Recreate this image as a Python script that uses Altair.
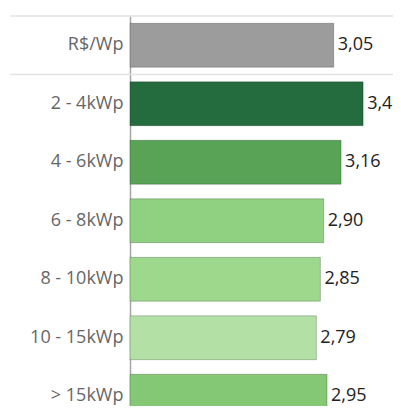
import altair as alt
import pandas as pd

categories = ["R$/Wp", "2 - 4kWp", "4 - 6kWp", "6 - 8kWp", "8 - 10kWp", "10 - 15kWp", "> 15kWp"]
values = [3.05, 3.49, 3.16, 2.90, 2.85, 2.79, 2.95]
colors = ["#9c9c9c", "#246b3d", "#59a356", "#8fd180", "#9dd88c", "#b2e0a5", "#84c774"]

df = pd.DataFrame({
    "cat": categories,
    "val": values,
    "label": [f"{v:.2f}".replace(".", ",") for v in values],
})

W_VIEW = 263     # visible plot width (kept inside the page)
W_RANGE = 271    # x range as in the reference, reaching the window edge
H_VIEW = 390     # visible plot height (kept inside the page)
H_RANGE = 409.5  # full band range, extends past the window like the reference
FONT = "Open Sans"

y_enc = alt.Y(
    "cat:N",
    sort=categories,
    scale=alt.Scale(paddingInner=0.25, paddingOuter=0.125, range=[0, H_RANGE]),
    axis=alt.Axis(
        title=None, ticks=False, labelPadding=7, labelFontSize=18,
        labelFont=FONT, labelColor="#666666", domain=True,
        domainColor="#a6a6a6", domainWidth=1.5, grid=False,
    ),
)
x_enc = alt.X("val:Q", scale=alt.Scale(domain=[0, W_RANGE / 66.8], range=[0, W_RANGE], nice=False, zero=True), axis=None)

base = alt.Chart(df)

bars = base.mark_bar(stroke="#000000", strokeOpacity=0.22, strokeWidth=1).encode(
    y=y_enc,
    x=x_enc,
    color=alt.Color("cat:N", scale=alt.Scale(domain=categories, range=colors), legend=None),
)

texts = base.mark_text(align="left", baseline="middle", dx=4, fontSize=18, font=FONT, color="#222222").encode(
    y=alt.Y("cat:N", sort=categories),
    x=x_enc,
    text="label:N",
)

sep_df = pd.DataFrame({"k": [0]})
sep1 = alt.Chart(sep_df).mark_rule(color="#e3e3e3", strokeWidth=1.5).encode(
    x=alt.value(-120), x2=alt.value(W_RANGE), y=alt.value(0)
)
sep2 = alt.Chart(sep_df).mark_rule(color="#e3e3e3", strokeWidth=1.5).encode(
    x=alt.value(-120), x2=alt.value(W_RANGE), y=alt.value(H_RANGE / 7)
)

chart = alt.layer(sep1, sep2, bars, texts).properties(
    width=W_VIEW, height=H_VIEW,
    autosize=alt.AutoSizeParams(type="none"),
    padding={"left": 122, "top": 8, "right": 0, "bottom": 0},
).configure_view(stroke=None)

chart.save("out.html", embed_options={"renderer": "svg", "actions": False})
